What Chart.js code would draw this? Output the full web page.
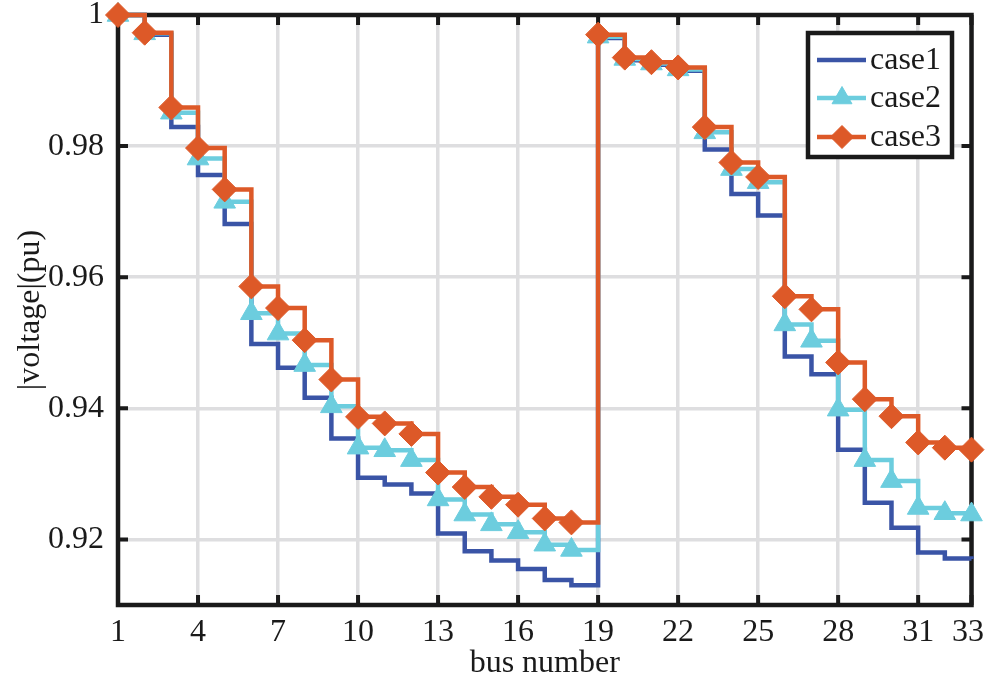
<!DOCTYPE html>
<html>
<head>
<meta charset="utf-8">
<script src="https://cdn.jsdelivr.net/npm/chart.js@4.4.1/dist/chart.umd.min.js"></script>
<style>
  html, body { margin: 0; padding: 0; background: #ffffff; }
  #wrap { width: 985px; height: 680px; position: relative; }
</style>
</head>
<body>
<div id="wrap"><canvas id="c" width="985" height="680"></canvas></div>
<script>
const buses = [1,2,3,4,5,6,7,8,9,10,11,12,13,14,15,16,17,18,19,20,21,22,23,24,25,26,27,28,29,30,31,32,33];
const case1 = [1.0000,0.9970,0.9829,0.9756,0.9681,0.9498,0.9462,0.9416,0.9354,0.9294,0.9284,0.9270,0.9209,0.9182,0.9168,0.9155,0.9138,0.9130,0.9965,0.9931,0.9924,0.9915,0.9795,0.9727,0.9694,0.9479,0.9452,0.9337,0.9256,0.9218,0.9180,0.9171,0.9170];
const case2 = [1.0000,0.9972,0.9851,0.9781,0.9715,0.9545,0.9514,0.9466,0.9403,0.9340,0.9336,0.9321,0.9261,0.9238,0.9223,0.9211,0.9192,0.9184,0.9967,0.9933,0.9926,0.9917,0.9821,0.9765,0.9745,0.9528,0.9503,0.9398,0.9321,0.9289,0.9248,0.9240,0.9238];
const case3 = [1.0000,0.9973,0.9859,0.9797,0.9734,0.9586,0.9553,0.9504,0.9444,0.9387,0.9377,0.9361,0.9302,0.9280,0.9265,0.9253,0.9232,0.9226,0.9970,0.9935,0.9928,0.9920,0.9829,0.9775,0.9753,0.9571,0.9551,0.9470,0.9414,0.9388,0.9348,0.9340,0.9337];
const seriesNames = ['case1','case2','case3'];
const xTicks = [1,4,7,10,13,16,19,22,25,28,31,33];
const yTicks = [0.92,0.94,0.96,0.98,1.0];

const FONT = "'Liberation Serif', 'Times New Roman', serif";
const C1 = 'rgb(58,84,166)', C2 = 'rgb(108,205,222)', C3 = 'rgb(221,89,40)';
const TXT = '#1a1a1a';

function pts(arr) { return buses.map((b, i) => ({x: b, y: arr[i]})); }

const frameTicks = {
  id: 'frameTicks',
  beforeDatasetsDraw(chart) {
    const {ctx, chartArea: a, scales: {x, y}} = chart;
    ctx.save();
    ctx.strokeStyle = TXT;
    ctx.lineWidth = 4;
    ctx.lineCap = 'butt';
    ctx.beginPath();
    xTicks.forEach(v => {
      const px = x.getPixelForValue(v);
      ctx.moveTo(px, a.bottom); ctx.lineTo(px, a.bottom - 10);
      ctx.moveTo(px, a.top); ctx.lineTo(px, a.top + 10);
    });
    yTicks.forEach(v => {
      const py = y.getPixelForValue(v);
      ctx.moveTo(a.left, py); ctx.lineTo(a.left + 10, py);
      ctx.moveTo(a.right, py); ctx.lineTo(a.right - 10, py);
    });
    ctx.stroke();
    ctx.lineWidth = 4.5;
    ctx.strokeRect(a.left, a.top, a.right - a.left, a.bottom - a.top);
    ctx.restore();
  },
  afterDraw(chart) {
    const ctx = chart.ctx;
    const {scales: {x}} = chart;
    ctx.save();
    // x tick labels (kept inside the canvas at the right edge)
    ctx.fillStyle = TXT;
    ctx.font = '32px ' + FONT;
    ctx.textAlign = 'center';
    ctx.textBaseline = 'middle';
    xTicks.forEach(v => {
      const label = String(v);
      const w = ctx.measureText(label).width;
      let px = x.getPixelForValue(v);
      px = Math.min(px, chart.width - w / 2 - 1);
      ctx.fillText(label, px, 633);
    });
    // legend
    const bx = 808, by = 33, bw = 144, bh = 124;
    ctx.fillStyle = '#ffffff';
    ctx.fillRect(bx, by, bw, bh);
    ctx.strokeStyle = TXT;
    ctx.lineWidth = 4.5;
    ctx.strokeRect(bx, by, bw, bh);
    const rows = [60, 98, 137];
    rows.forEach((ry, i) => {
      const ds = chart.data.datasets.find(d => d.label === seriesNames[i]);
      ctx.strokeStyle = ds.borderColor;
      ctx.lineWidth = 4.5;
      ctx.beginPath();
      ctx.moveTo(817, ry); ctx.lineTo(866, ry);
      ctx.stroke();
      if (ds.pointStyle && ds.pointRadius > 0) {
        ctx.fillStyle = ds.pointBackgroundColor;
        ctx.strokeStyle = ds.pointBorderColor;
        ctx.lineWidth = 1;
        Chart.helpers.drawPoint(ctx, {pointStyle: ds.pointStyle, radius: ds.pointRadius - 1, borderWidth: 1, rotation: 0}, 842, ry);
      }
      ctx.fillStyle = TXT;
      ctx.font = '32px ' + FONT;
      ctx.textAlign = 'left';
      ctx.textBaseline = 'middle';
      ctx.fillText(seriesNames[i], 870, ry + 1);
    });
    ctx.restore();
  }
};

new Chart(document.getElementById('c'), {
  type: 'line',
  data: {
    datasets: [
      { label: seriesNames[2], data: pts(case3), borderColor: C3, backgroundColor: C3, pointBackgroundColor: C3, pointBorderColor: C3,
        pointStyle: 'rectRot', pointRadius: 12.5, pointBorderWidth: 1, borderWidth: 4.5, stepped: true, clip: false, order: 1 },
      { label: seriesNames[1], data: pts(case2), borderColor: C2, backgroundColor: C2, pointBackgroundColor: C2, pointBorderColor: C2,
        pointStyle: 'triangle', pointRadius: 12.5, pointBorderWidth: 1, borderWidth: 4.5, stepped: true, clip: false, order: 2 },
      { label: seriesNames[0], data: pts(case1), borderColor: C1, backgroundColor: C1,
        pointRadius: 0, borderWidth: 4.5, stepped: true, clip: false, order: 3 }
    ]
  },
  options: {
    responsive: false,
    animation: false,
    layout: { padding: { top: 15, right: 9, left: 0, bottom: 0 } },
    plugins: { legend: { display: false }, tooltip: { enabled: false } },
    elements: { line: { tension: 0 } },
    scales: {
      x: {
        type: 'linear', min: 1, max: 33,
        afterBuildTicks: s => { s.ticks = xTicks.map(v => ({value: v})); },
        afterFit: s => { s.height = 75; s.paddingLeft = 0; s.paddingRight = 0; },
        grid: { color: 'rgb(222,222,224)', lineWidth: 3.5, drawTicks: false },
        border: { display: false },
        ticks: { display: false },
        title: { display: true, text: 'bus number', color: TXT, font: { family: FONT, size: 32, lineHeight: 1.0 }, padding: { top: 0, bottom: 0 } }
      },
      y: {
        type: 'linear', min: 0.91, max: 1.0,
        afterBuildTicks: s => { s.ticks = yTicks.map(v => ({value: v})); },
        afterFit: s => { s.width = 118; s.paddingTop = 0; s.paddingBottom = 0; },
        grid: { color: 'rgb(222,222,224)', lineWidth: 3.5, drawTicks: false },
        border: { display: false },
        ticks: { color: TXT, font: { family: FONT, size: 32 }, padding: 14,
                 callback: v => (Math.abs(v - 1) < 1e-9 ? '1' : v.toFixed(2)) },
        title: { display: true, text: '|voltage|(pu)', color: TXT, font: { family: FONT, size: 32, lineHeight: 1.2 }, padding: { top: 11, bottom: 0 } }
      }
    }
  },
  plugins: [frameTicks]
});
</script>
</body>
</html>
